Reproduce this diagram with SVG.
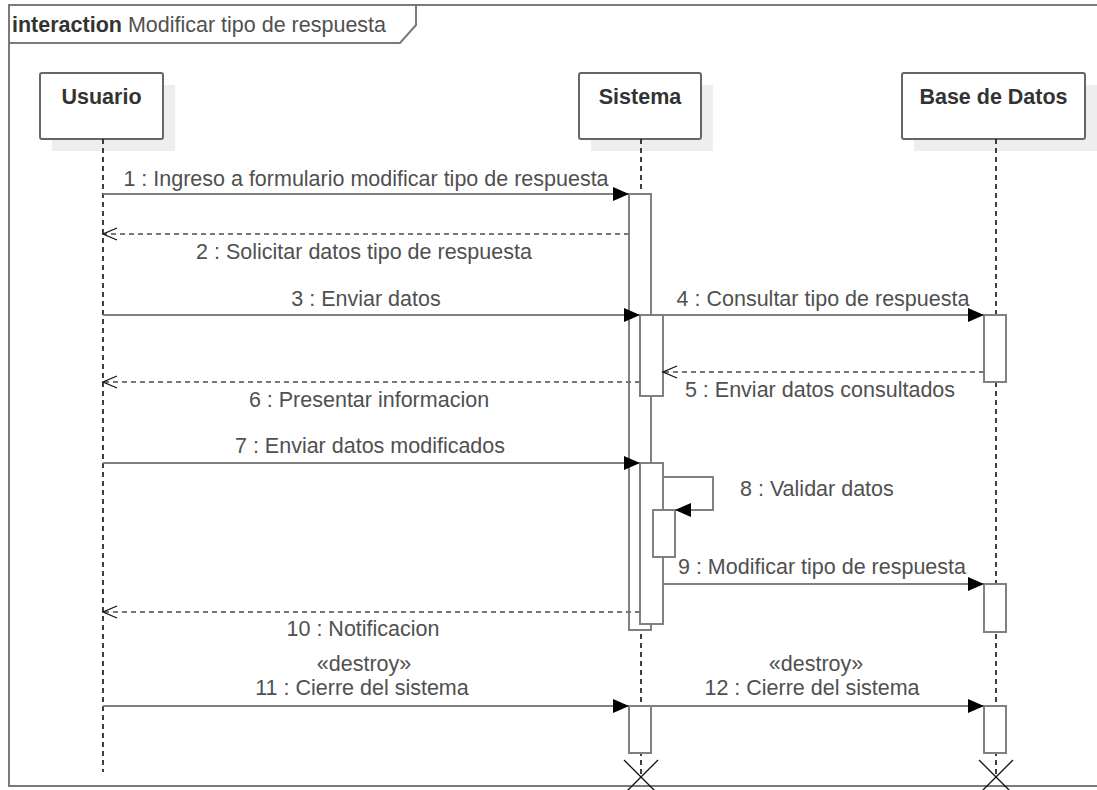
<svg xmlns="http://www.w3.org/2000/svg" width="1097" height="790" viewBox="0 0 1097 790">
<style>
  .frame{fill:none;stroke:#7a7a7a;stroke-width:2}
  .box{fill:#fff;stroke:#666;stroke-width:2}
  .shadow{fill:#eeeeee}
  .life{stroke:#111;stroke-width:1.6;stroke-dasharray:5,4;fill:none}
  .act{fill:#fff;stroke:#808080;stroke-width:2}
  .msg{stroke:#808080;stroke-width:2;fill:none}
  .ret{stroke:#777;stroke-width:2;stroke-dasharray:5,4;fill:none}
  .lbl{font-family:"Liberation Sans",Arial,sans-serif;font-size:21.5px;fill:#505050;text-anchor:middle}
  .hdr{font-family:"Liberation Sans",Arial,sans-serif;font-size:21.5px;font-weight:bold;fill:#333;text-anchor:middle}
  .x{stroke:#111;stroke-width:1.3}
</style>
<defs>
  <marker id="fill" markerUnits="userSpaceOnUse" markerWidth="18" markerHeight="16" refX="16" refY="7" orient="auto">
    <path d="M0,0 L16,7 L0,14 z" fill="#000"/>
  </marker>
  <marker id="open" markerUnits="userSpaceOnUse" markerWidth="18" markerHeight="16" refX="15" refY="7" orient="auto">
    <path d="M1,1 L15,7 L1,13" fill="none" stroke="#111" stroke-width="1.3"/>
  </marker>
</defs>
<rect width="1097" height="790" fill="#fff"/>

<g id="frame">
  <path class="frame" d="M1100,5 L9,5 L9,786 L1100,786"/>
  <path class="frame" d="M9,43 L400,43 L416,25 L416,5"/>
  <text x="12" y="32" font-family="'Liberation Sans',Arial,sans-serif" font-size="21.5" fill="#333"><tspan font-weight="bold">interaction</tspan><tspan fill="#505050"> Modificar tipo de respuesta</tspan></text>
</g>

<g id="Usuario">
  <rect class="shadow" x="52" y="85" width="123" height="66"/>
  <rect class="box" x="40" y="73" width="123" height="66" rx="2"/>
  <text class="hdr" x="101.5" y="104">Usuario</text>
  <line class="life" x1="103" y1="139" x2="103" y2="772"/>
</g>

<g id="Sistema">
  <rect class="shadow" x="591" y="85" width="122" height="66"/>
  <rect class="box" x="579" y="73" width="122" height="66" rx="2"/>
  <text class="hdr" x="640" y="104">Sistema</text>
  <line class="life" x1="641" y1="139" x2="641" y2="777"/>
  <rect class="act" x="629" y="194" width="22" height="436"/>
  <rect class="act" x="640" y="315" width="23" height="81"/>
  <rect class="act" x="640" y="463" width="23" height="161"/>
  <rect class="act" x="653" y="510" width="22" height="47"/>
  <rect class="act" x="629" y="706" width="22" height="47"/>
  <line class="x" x1="624" y1="760" x2="658" y2="794"/>
  <line class="x" x1="658" y1="760" x2="624" y2="794"/>
</g>

<g id="BaseDeDatos">
  <rect class="shadow" x="914" y="85" width="183" height="66"/>
  <rect class="box" x="902" y="73" width="183" height="66" rx="2"/>
  <text class="hdr" x="993.5" y="104">Base de Datos</text>
  <line class="life" x1="996" y1="139" x2="996" y2="777"/>
  <rect class="act" x="984" y="315" width="22" height="67"/>
  <rect class="act" x="984" y="584" width="22" height="48"/>
  <rect class="act" x="984" y="706" width="22" height="47"/>
  <line class="x" x1="979" y1="760" x2="1013" y2="794"/>
  <line class="x" x1="1013" y1="760" x2="979" y2="794"/>
</g>

<g id="connectors">
  <line class="msg" x1="103" y1="194" x2="629" y2="194" marker-end="url(#fill)"/>
  <text class="lbl" x="366" y="186">1 : Ingreso a formulario modificar tipo de respuesta</text>

  <line class="ret" x1="629" y1="234" x2="103" y2="234" marker-end="url(#open)"/>
  <text class="lbl" x="364" y="259">2 : Solicitar datos tipo de respuesta</text>

  <line class="msg" x1="103" y1="315" x2="640" y2="315" marker-end="url(#fill)"/>
  <text class="lbl" x="366" y="306">3 : Enviar datos</text>

  <line class="msg" x1="663" y1="315" x2="984" y2="315" marker-end="url(#fill)"/>
  <text class="lbl" x="823" y="306">4 : Consultar tipo de respuesta</text>

  <line class="ret" x1="984" y1="372" x2="663" y2="372" marker-end="url(#open)"/>
  <text class="lbl" x="820" y="397">5 : Enviar datos consultados</text>

  <line class="ret" x1="640" y1="382" x2="103" y2="382" marker-end="url(#open)"/>
  <text class="lbl" x="369" y="407">6 : Presentar informacion</text>

  <line class="msg" x1="103" y1="463" x2="640" y2="463" marker-end="url(#fill)"/>
  <text class="lbl" x="370" y="453">7 : Enviar datos modificados</text>

  <path class="msg" d="M663,477 L713,477 L713,510 L675,510" marker-end="url(#fill)"/>
  <text class="lbl" x="740" y="496" style="text-anchor:start">8 : Validar datos</text>

  <line class="msg" x1="663" y1="584" x2="984" y2="584" marker-end="url(#fill)"/>
  <text class="lbl" x="822" y="574">9 : Modificar tipo de respuesta</text>

  <line class="ret" x1="640" y1="612" x2="103" y2="612" marker-end="url(#open)"/>
  <text class="lbl" x="363" y="636">10 : Notificacion</text>

  <line class="msg" x1="103" y1="706" x2="629" y2="706" marker-end="url(#fill)"/>
  <text class="lbl" x="364" y="671">«destroy»</text>
  <text class="lbl" x="362" y="695">11 : Cierre del sistema</text>

  <line class="msg" x1="651" y1="706" x2="984" y2="706" marker-end="url(#fill)"/>
  <text class="lbl" x="816" y="671">«destroy»</text>
  <text class="lbl" x="812" y="695">12 : Cierre del sistema</text>
</g>
</svg>
